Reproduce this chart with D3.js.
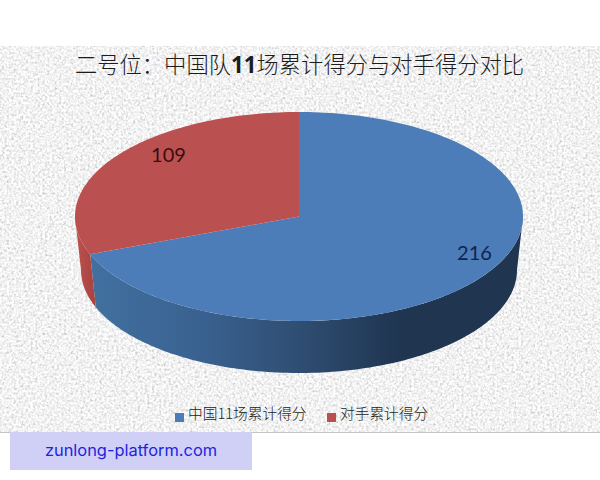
<!DOCTYPE html>
<html><head><meta charset="utf-8">
<script src="https://cdn.jsdelivr.net/npm/d3@7"></script>
<style>html,body{margin:0;padding:0;background:#fff}svg{display:block}</style>
</head><body><svg id="c" width="600" height="480"></svg>
<script>
const title1 = "二号位：中国队", titleNum = "11", title2 = "场累计得分与对手得分对比";
const categories = ["中国11场累计得分", "对手累计得分"];
const values = [216, 109];
const colors = ["#4d7db8", "#bb5050"];
const labelColors = ["#0f2350", "#3c0c10"];
const watermark = "zunlong-platform.com";

const svg = d3.select("#c");
const cx = 299, cy = 216.5, rx = 224, ry = 104.5;
const cyB = 270, rxB = 218, ryB = 103;
const defs = svg.append("defs");

const f = defs.append("filter").attr("id","paper").attr("x",0).attr("y",0).attr("width","100%").attr("height","100%");
f.append("feTurbulence").attr("type","fractalNoise").attr("baseFrequency",0.42).attr("numOctaves",3).attr("seed",7);
f.append("feColorMatrix").attr("values","0.55 0.55 0 0 0.335  0.55 0.55 0 0 0.335  0.55 0.55 0 0 0.335  0 0 0 0 1");

const gb = defs.append("linearGradient").attr("id","sideBlue").attr("gradientUnits","userSpaceOnUse")
  .attr("x1",90).attr("x2",400).attr("y1",0).attr("y2",0);
[[0,"#41709f"],[0.35,"#3a6291"],[0.7,"#2e4c70"],[1,"#1f3550"]].forEach(d=>gb.append("stop").attr("offset",d[0]).attr("stop-color",d[1]));
const gr = defs.append("linearGradient").attr("id","sideRed").attr("gradientUnits","userSpaceOnUse")
  .attr("x1",78).attr("x2",96).attr("y1",0).attr("y2",0);
[[0,"#b8504c"],[1,"#a8423f"]].forEach(d=>gr.append("stop").attr("offset",d[0]).attr("stop-color",d[1]));

svg.append("rect").attr("x",0).attr("y",46).attr("width",600).attr("height",386).attr("filter","url(#paper)");
svg.append("line").attr("x1",0).attr("x2",600).attr("y1",432.5).attr("y2",432.5).attr("stroke","#c4c4c4");

// perspective warp: the near half of the disc spreads wider than the far half
const warp = t => t + 0.189 * Math.sin(2 * t);
const unitX = d3.scaleLinear().domain([-1,1]);
const unitY = d3.scaleLinear().domain([-1,1]);
const topX = unitX.copy().range([cx-rx,cx+rx]), topY = unitY.copy().range([cy-ry,cy+ry]);
const botX = unitX.copy().range([cx-rxB,cx+rxB]), botY = unitY.copy().range([cyB-ryB,cyB+ryB]);
const pt = (t,bottom) => { const a = warp(t);
  return bottom ? [botX(Math.sin(a)), botY(-Math.cos(a))] : [topX(Math.sin(a)), topY(-Math.cos(a))]; };
const arcPts = (a,b,bottom) => { const n = Math.max(2,Math.ceil(Math.abs(b-a)*60));
  return d3.range(n+1).map(i=>pt(a+(b-a)*i/n,bottom)); };
const line = d3.line();

const arcs = d3.pie().sort(null)(values);

// side walls
const H = Math.PI/2, TH = Math.PI*1.5;
const sides = ["url(#sideBlue)","url(#sideRed)"];
arcs.forEach((d,i)=>{
  const a = Math.max(d.startAngle,H), b = Math.min(d.endAngle,TH);
  if (b<=a) return;
  svg.append("path").attr("fill",sides[i]).attr("d",line(arcPts(a,b,false).concat(arcPts(b,a,true)))+"Z");
});
// top faces
arcs.forEach((d,i)=>{
  svg.append("path").attr("fill",colors[i])
    .attr("d",line([[cx,cy]].concat(arcPts(d.startAngle,d.endAngle,false)))+"Z");
});

// data labels
const lblPos = [[474.5,253],[168.5,155]];
values.forEach((v,i)=>{
  svg.append("text").attr("x",lblPos[i][0]).attr("y",lblPos[i][1]).attr("dy","0.35em")
    .attr("text-anchor","middle").attr("font-family","Lato,sans-serif").attr("font-size",20)
    .attr("fill",labelColors[i]).text(v);
});

// title
const t = svg.append("text").attr("x",299.5).attr("y",73).attr("text-anchor","middle")
  .attr("font-family","'Noto Sans CJK SC',sans-serif").attr("font-weight",300).attr("font-size",22.3).attr("fill","#1c1c1c");
t.append("tspan").text(title1);
t.append("tspan").attr("font-weight","bold").attr("font-family","'Open Sans',sans-serif").text(titleNum);
t.append("tspan").text(title2);

// legend
const lx = [175,327], tx = [188,340];
categories.forEach((c,i)=>{
  svg.append("rect").attr("x",lx[i]).attr("y",413).attr("width",9).attr("height",9).attr("fill",colors[i]);
  svg.append("text").attr("x",tx[i]).attr("y",419).attr("font-family","'Noto Sans CJK SC',sans-serif")
    .attr("font-weight",300).attr("font-size",14.7).attr("fill","#222").text(c);
});

// watermark
svg.append("rect").attr("x",10).attr("y",432).attr("width",242).attr("height",38).attr("fill","#d0d0f6");
svg.append("text").attr("x",131).attr("y",456).attr("text-anchor","middle")
  .attr("font-family","Inter,sans-serif").attr("font-size",16.4).attr("fill","#2222dd").text(watermark);
</script></body></html>
